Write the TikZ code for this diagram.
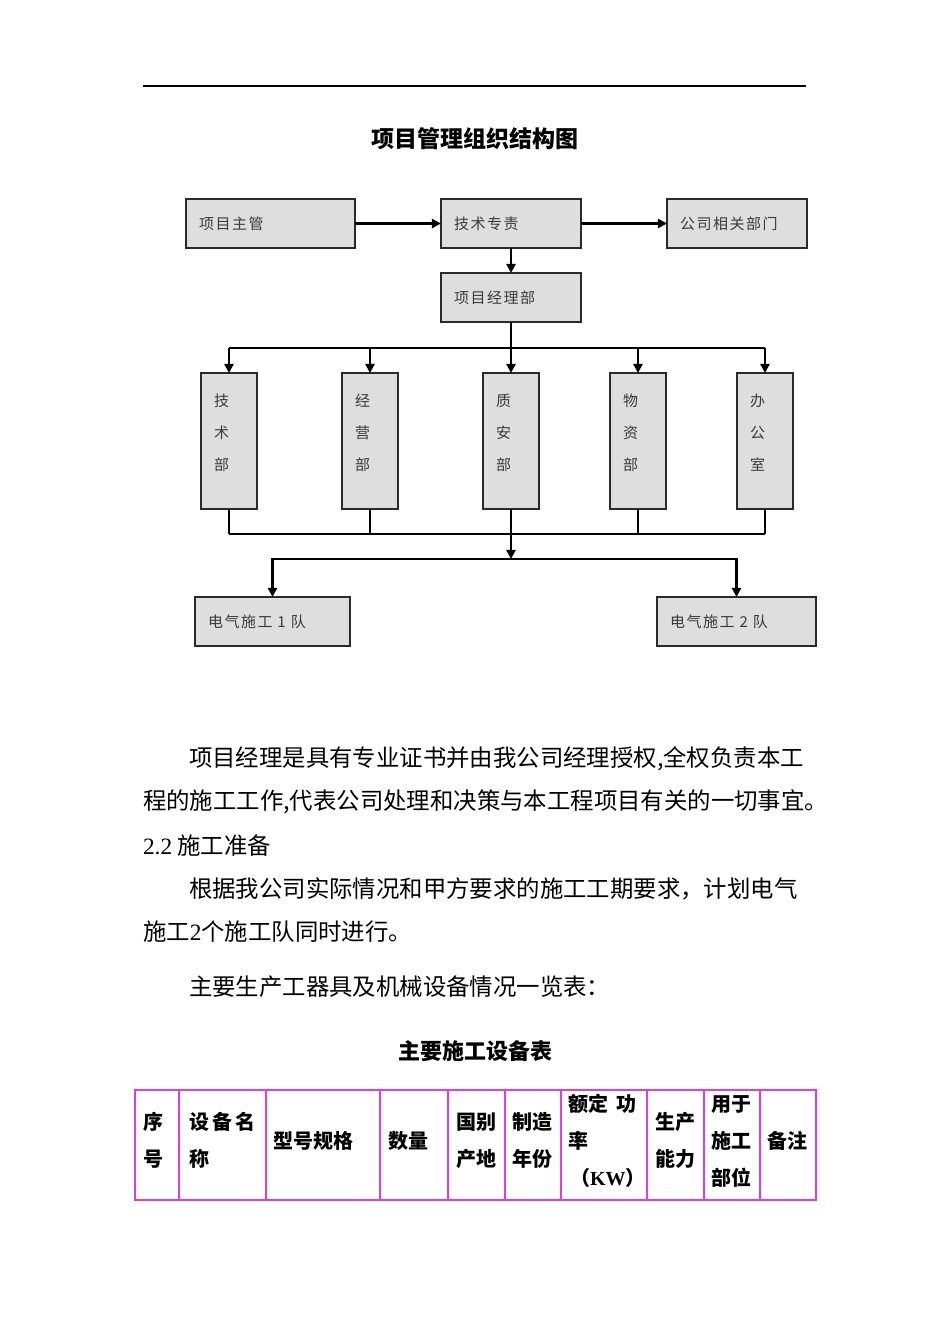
\documentclass[tikz,border=0pt]{standalone}
\usepackage{fontspec}
\setmainfont{Liberation Serif}
\newfontfamily\cjk{Noto Sans CJK SC}
\newfontfamily\cjkbox[LetterSpace=10]{Noto Sans CJK SC}
\usetikzlibrary{arrows.meta}
\definecolor{boxfill}{HTML}{DEDEDE}
\definecolor{boxline}{HTML}{2A2A2A}
\definecolor{boxtext}{HTML}{3A3A3A}
\definecolor{tableline}{HTML}{E03CE0}

\begin{document}
\begin{tikzpicture}[
  x=0.5pt,
  y=-0.5pt,
  every node/.style={inner sep=0pt, outer sep=0pt},
  unit/.style={draw=boxline, line width=0.75pt, fill=boxfill, minimum height=24.5pt,
    text width=#1, align=left, inner xsep=6.5pt, text=boxtext,
    font=\cjkbox\fontsize{7.5pt}{16pt}\selectfont},
  dept/.style={unit=15pt, minimum height=68pt},
  link/.style={line width=1.25pt, -{Triangle[length=4.6pt,width=4.6pt]}},
  wire/.style={line width=1.25pt},
  body/.style={anchor=west, font=\cjk\fontsize{11.7pt}{14pt}\selectfont},
  cell/.style={align=left, font=\cjk\bfseries\fontsize{10pt}{18.5pt}\selectfont}
]
  \fill[white] (0,0) rectangle (950,1344);
  \useasboundingbox (0,0) rectangle (950,1344);

  % Header rule and title
  \draw[line width=0.6pt] (143,86) -- (806,86);
  \node[font=\cjk\bfseries\fontsize{11.5pt}{14pt}\selectfont] (title) at (475,139) {项目管理组织结构图};

  % Chart: top row
  \node[unit=71.5pt] (zhuguan) at (270.5,223.5) {项目主管};
  \node[unit=57pt] (zhuanze) at (511,223.5) {技术专责};
  \node[unit=57pt] (gongsi) at (737,223.5) {公司相关部门};
  \node[unit=57pt] (jinglibu) at (511,297.5) {项目经理部};

  % Chart: departments
  \node[dept] (jishubu) at (229,441) {技\\术\\部\\[-7pt]~};
  \node[dept] (jingying) at (370,441) {经\\营\\部\\[-7pt]~};
  \node[dept] (zhian) at (511,441) {质\\安\\部\\[-7pt]~};
  \node[dept] (wuzi) at (638,441) {物\\资\\部\\[-7pt]~};
  \node[dept] (bangong) at (765,441) {办\\公\\室\\[-7pt]~};

  % Chart: teams
  \node[unit=64.5pt] (dui1) at (272.5,621.5) {电气施工 1 队};
  \node[unit=66.5pt] (dui2) at (736.5,621.5) {电气施工 2 队};

  \coordinate (topbus) at (511,348);
  \coordinate (lowbus) at (511,534);
  \coordinate (split) at (511,559);

  \draw[link] (zhuguan) -- (zhuanze);
  \draw[link] (zhuanze) -- (gongsi);
  \draw[link] (zhuanze) -- (jinglibu);
  \draw[wire] (jinglibu) -- (topbus);
  \draw[wire] (topbus -| jishubu.north) -- (topbus -| bangong.north);
  \foreach \d in {jishubu,jingying,zhian,wuzi,bangong} {
    \draw[link] (topbus -| \d.north) -- (\d.north);
    \draw[wire] (\d.south) -- (lowbus -| \d.south);
  }
  \draw[wire] (lowbus -| jishubu.south) -- (lowbus -| bangong.south);
  \draw[link] (lowbus) -- (split);
  \draw[link] (split) -| (dui1.north);
  \draw[link] (split) -| (dui2.north);

  % Text below the chart
  \node[body] (p1) at (189,759) {项目经理是具有专业证书并由我公司经理授权,全权负责本工};
  \node[body] (p2) at (143,802) {程的施工工作,代表公司处理和决策与本工程项目有关的一切事宜。};
  \node[body] (h22) at (143,846) {{\rmfamily 2.2} 施工准备};
  \node[body] (p3) at (189,889) {根据我公司实际情况和甲方要求的施工工期要求，计划电气};
  \node[body] (p4) at (143,932) {施工{\rmfamily 2}个施工队同时进行。};
  \node[body] (p5) at (189,987) {主要生产工器具及机械设备情况一览表：};

  % Table
  \node[font=\cjk\bfseries\fontsize{11pt}{14pt}\selectfont] (tabtitle) at (475,1051) {主要施工设备表};
  \draw[tableline, line width=0.9pt] (135,1090) rectangle (816,1200);
  \foreach \x in {179,266,380,448,505,561,647,704,760}
    \draw[tableline, line width=0.9pt] (\x,1090) -- (\x,1200);
  \node[cell] (c1) at (153,1140.5) {序\\号};
  \node[cell, anchor=west] (c2) at (189,1140.5) {设\,备\,名\\称};
  \node[cell] (c3) at (313,1141) {型号规格};
  \node[cell] (c4) at (408,1141) {数量};
  \node[cell] (c5) at (476,1140.5) {国别\\产地};
  \node[cell] (c6) at (532,1140.5) {制造\\年份};
  \node[cell, anchor=west] (c7) at (568,1141) {额定\hspace{4pt}功\\率\\\hspace{1pt}（{\rmfamily KW}）};
  \node[cell] (c8) at (675,1140.5) {生产\\能力};
  \node[cell] (c9) at (731,1141) {用于\\施工\\部位};
  \node[cell] (c10) at (787,1141) {备注};
\end{tikzpicture}
\end{document}
